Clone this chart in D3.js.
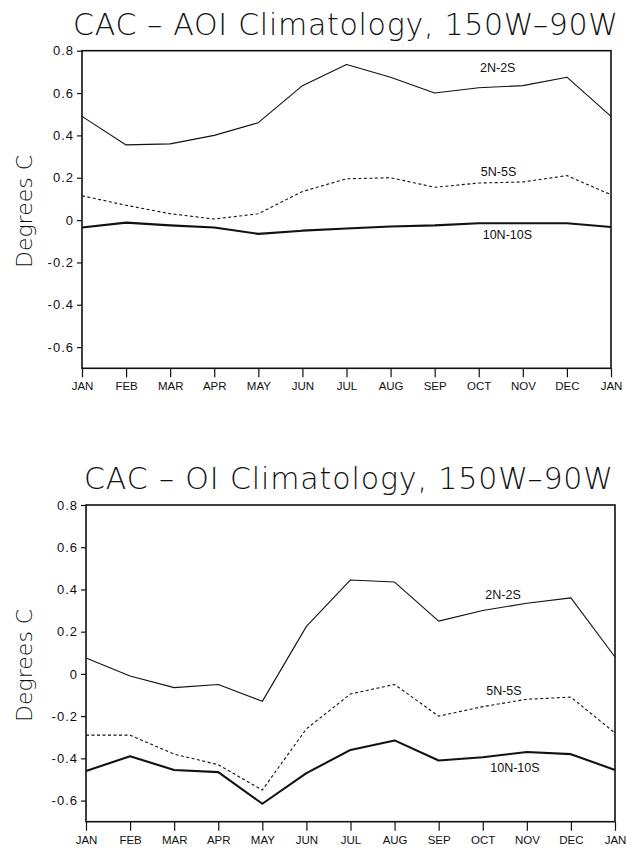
<!DOCTYPE html>
<html><head><meta charset="utf-8">
<script src="https://cdn.jsdelivr.net/npm/d3@7"></script>
<style>body{margin:0;background:#fff}svg{display:block}</style>
</head><body>
<svg id="c" width="627" height="850"></svg>
<script>
const months = ["JAN","FEB","MAR","APR","MAY","JUN","JUL","AUG","SEP","OCT","NOV","DEC","JAN"];
const yTicks = [0.8,0.6,0.4,0.2,0,-0.2,-0.4,-0.6];
const yTickLabels = ["0.8","0.6","0.4","0.2","0","-0.2","-0.4","-0.6"];
const seriesNames = ["2N-2S","5N-5S","10N-10S"];

// CAC - AOI climatology
const aoi_2N2S  = [0.49,0.355,0.36,0.40,0.46,0.635,0.735,0.675,0.60,0.625,0.635,0.675,0.49];
const aoi_5N5S  = [0.115,0.07,0.03,0.005,0.03,0.135,0.195,0.20,0.155,0.175,0.18,0.21,0.12];
const aoi_10N10S= [-0.035,-0.012,-0.025,-0.035,-0.065,-0.05,-0.04,-0.03,-0.025,-0.015,-0.015,-0.015,-0.033];

// CAC - OI climatology
const oi_2N2S  = [0.075,-0.01,-0.065,-0.05,-0.13,0.225,0.445,0.435,0.25,0.30,0.335,0.36,0.08];
const oi_5N5S  = [-0.29,-0.29,-0.38,-0.43,-0.55,-0.26,-0.095,-0.05,-0.20,-0.155,-0.12,-0.11,-0.28];
const oi_10N10S= [-0.46,-0.39,-0.455,-0.465,-0.615,-0.47,-0.36,-0.315,-0.41,-0.395,-0.37,-0.38,-0.455];

const panels = [
  {title:"CAC \u2013 AOI Climatology, 150W\u201390W", series:[aoi_2N2S,aoi_5N5S,aoi_10N10S],
   x0:82, x1:611, yTop:50.7, yBot:368.3, titleX0:73, titleX1:618, titleY:35,
   labels:[{m:9.43,v:0.718},{m:9.45,v:0.227},{m:9.65,v:-0.072}]},
  {title:"CAC \u2013 OI Climatology, 150W\u201390W", series:[oi_2N2S,oi_5N5S,oi_10N10S],
   x0:86, x1:615, yTop:505, yBot:821.7, titleX0:84, titleX1:613, titleY:489,
   labels:[{m:9.46,v:0.375},{m:9.48,v:-0.083},{m:9.73,v:-0.446}]}
];

const svg = d3.select("#c");
const styles = [
  {w:1.1, dash:null},
  {w:1.1, dash:"3,2.5"},
  {w:2.1, dash:null}
];

panels.forEach(p => {
  const g = svg.append("g");
  const x = d3.scaleLinear().domain([0,12]).range([p.x0,p.x1]);
  const y = d3.scaleLinear().domain([-0.7,0.8]).range([p.yBot,p.yTop]);

  // title
  g.append("text").attr("x",p.titleX0).attr("y",p.titleY)
    .attr("font-family","DejaVu Sans, sans-serif").attr("font-weight",200)
    .attr("font-size",30).attr("textLength",p.titleX1-p.titleX0)
    .attr("lengthAdjust","spacing").attr("fill","#111").text(p.title);

  // y axis
  const ya = d3.axisLeft(y).tickValues(yTicks).tickSize(5).tickPadding(3)
    .tickFormat((d,i)=>yTickLabels[i]);
  const yg = g.append("g").attr("transform",`translate(${p.x0},0)`).call(ya);
  yg.select(".domain").remove();
  yg.selectAll("line").attr("stroke","#111").attr("stroke-width",1.2);
  yg.selectAll("text").attr("font-family","Liberation Sans, Arial, sans-serif")
    .attr("font-size",13).attr("fill","#111").attr("letter-spacing",1);

  // x axis
  const xa = d3.axisBottom(x).tickValues(d3.range(13)).tickSize(9).tickPadding(5)
    .tickFormat((d,i)=>months[i]);
  const xg = g.append("g").attr("transform",`translate(0,${p.yBot})`).call(xa);
  xg.select(".domain").remove();
  xg.selectAll("line").attr("stroke","#111").attr("stroke-width",1.2);
  xg.selectAll("text").attr("font-family","Liberation Sans, Arial, sans-serif")
    .attr("font-size",11.5).attr("fill","#111");

  // frame
  g.append("rect").attr("x",p.x0).attr("y",p.yTop).attr("width",p.x1-p.x0)
    .attr("height",p.yBot-p.yTop).attr("fill","none").attr("stroke","#111").attr("stroke-width",1.6);

  // y label
  const cy = (p.yTop+p.yBot)/2 + 2;
  g.append("text").attr("transform",`translate(32,${cy}) rotate(-90)`)
    .attr("text-anchor","middle").attr("font-family","DejaVu Sans, sans-serif")
    .attr("font-weight",200).attr("font-size",22).attr("fill","#111").text("Degrees C");

  // lines
  const line = d3.line().x((d,i)=>x(i)).y(d=>y(d));
  p.series.forEach((s,k) => {
    g.append("path").datum(s).attr("d",line).attr("fill","none")
      .attr("stroke","#111").attr("stroke-width",styles[k].w)
      .attr("stroke-dasharray",styles[k].dash).attr("stroke-linejoin","round");
  });

  // series labels
  p.labels.forEach((l,k) => {
    g.append("text").attr("x",x(l.m)).attr("y",y(l.v)).attr("text-anchor","middle")
      .attr("dominant-baseline","central")
      .attr("font-family","Liberation Sans, Arial, sans-serif").attr("font-size",12.5)
      .attr("fill","#111").text(seriesNames[k]);
  });
});
</script>
</body></html>
